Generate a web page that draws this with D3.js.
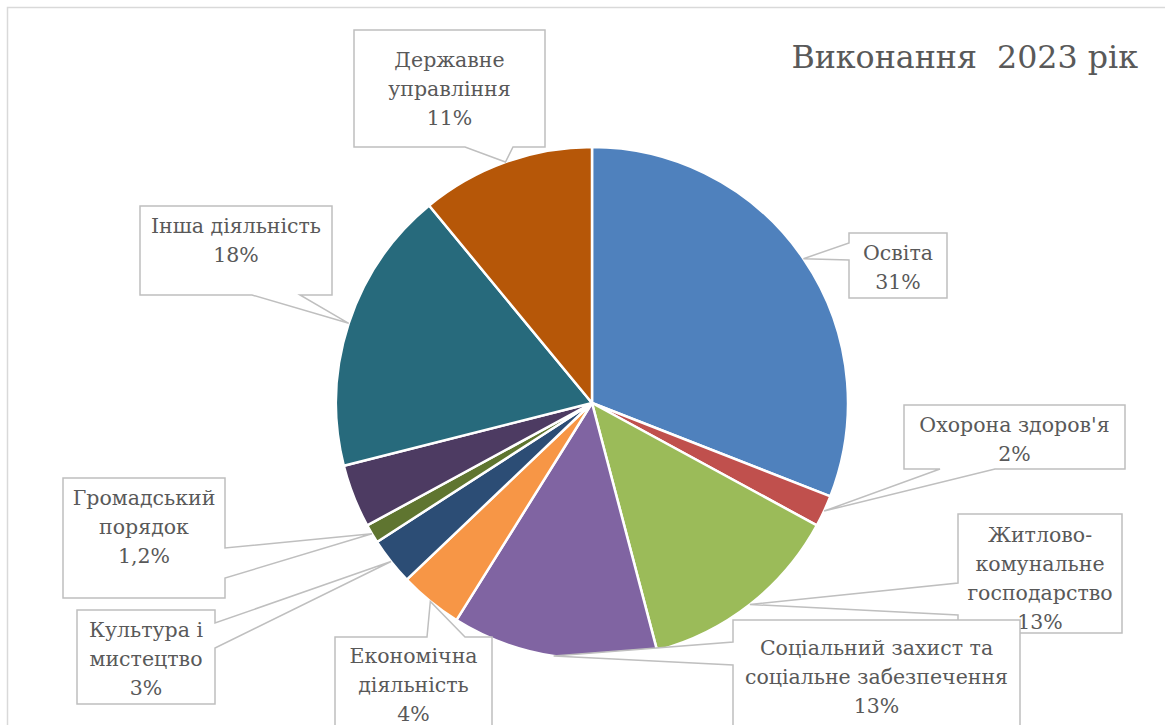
<!DOCTYPE html>
<html>
<head>
<meta charset="utf-8">
<script src="https://cdn.jsdelivr.net/npm/d3@7"></script>
<style>
  body { margin: 0; background: #fff; }
  svg text { font-family: "DejaVu Serif", "Liberation Serif", serif; fill: #595959; }
</style>
</head>
<body>
<svg id="chart"></svg>
<script>
// data
const categories = ["Освіта", "Охорона здоров'я", "Житлово-комунальне господарство",
    "Соціальний захист та соціальне забезпечення", "Економічна діяльність",
    "Культура і мистецтво", "Громадський порядок", "", "Інша діяльність", "Державне управління"];
const values = [31, 2, 13, 13, 4, 3, 1.2, 4, 18, 11];
const percentLabels = ["31%", "2%", "13%", "13%", "4%", "3%", "1,2%", null, "18%", "11%"];
const labelLines = [
    ["Освіта"],
    ["Охорона здоров'я"],
    ["Житлово-", "комунальне", "господарство"],
    ["Соціальний захист та", "соціальне забезпечення"],
    ["Економічна", "діяльність"],
    ["Культура і", "мистецтво"],
    ["Громадський", "порядок"],
    null,
    ["Інша діяльність"],
    ["Державне", "управління"]
];
const colors = ["#4F81BD", "#C0504D", "#9BBB59", "#8064A2", "#F79646",
    "#2C4D75", "#5F7530", "#4D3B62", "#276A7C", "#B65708"];

const title = "Виконання  2023 рік";

// callout boxes (layout only): box, side of the wedge, wedge base, first baseline
const callouts = [
    {i: 0, x: 849, y: 233, w: 98, h: 65, side: "left", a: 243, b: 260, base: 260},
    {i: 1, x: 904, y: 405, w: 221, h: 64, side: "bottom", a: 940, b: 995, base: 432},
    {i: 2, x: 958, y: 514, w: 164, h: 119, side: "left", a: 583, b: 615, base: 542},
    {i: 3, x: 733, y: 620, w: 287, h: 130, side: "left", a: 642, b: 665, base: 655},
    {i: 4, x: 335, y: 637, w: 157, h: 110, side: "top", a: 427, b: 465, base: 663},
    {i: 5, x: 77, y: 610, w: 138, h: 94, side: "right", a: 623, b: 648, base: 637},
    {i: 6, x: 63, y: 478, w: 162, h: 120, side: "right", a: 548, b: 578, base: 505},
    {i: 8, x: 140, y: 206, w: 192, h: 89, side: "bottom", a: 252, b: 300, base: 233},
    {i: 9, x: 354, y: 30, w: 191, h: 117, side: "bottom", a: 465, b: 513, base: 67}
];

const width = 1165, height = 725;
const cx = 592, cy = 403, radius = 256;
const lineH = 29;

const svg = d3.select("#chart").attr("width", width).attr("height", height);

// chart frame
svg.append("rect")
    .attr("x", 7.5).attr("y", 7.5)
    .attr("width", width + 20).attr("height", height + 20)
    .attr("fill", "none")
    .attr("stroke", "#D9D9D9")
    .attr("stroke-width", 1.5);

const pie = d3.pie().sort(null).value(d => d)(values);
const arc = d3.arc().innerRadius(0).outerRadius(radius);
const tipArc = d3.arc().innerRadius(radius).outerRadius(radius);

const g = svg.append("g").attr("transform", `translate(${cx},${cy})`);
g.selectAll("path")
    .data(pie).enter()
    .append("path")
    .attr("d", arc)
    .attr("fill", (d, i) => colors[i])
    .attr("stroke", "#fff")
    .attr("stroke-width", 2.5)
    .attr("stroke-linejoin", "round");

function calloutPath(c, tx, ty) {
    const x = c.x, y = c.y, r = c.x + c.w, btm = c.y + c.h;
    if (c.side === "bottom")
        return `M${x},${y}H${r}V${btm}H${c.b}L${tx},${ty}L${c.a},${btm}H${x}Z`;
    if (c.side === "left")
        return `M${x},${y}H${r}V${btm}H${x}V${c.b}L${tx},${ty}L${x},${c.a}Z`;
    if (c.side === "right")
        return `M${x},${y}H${r}V${c.a}L${tx},${ty}L${r},${c.b}V${btm}H${x}Z`;
    return `M${x},${y}H${c.a}L${tx},${ty}L${c.b},${y}H${r}V${btm}H${x}Z`;
}

const labels = svg.append("g").attr("class", "callouts");
callouts.forEach(c => {
    const t = tipArc.centroid(pie[c.i]);
    const tx = cx + t[0], ty = cy + t[1];
    const grp = labels.append("g");
    grp.append("path")
        .attr("d", calloutPath(c, tx, ty))
        .attr("fill", "#fff")
        .attr("stroke", "#BFBFBF")
        .attr("stroke-width", 1.5)
        .attr("stroke-linejoin", "miter");
    const lines = labelLines[c.i].concat([percentLabels[c.i]]);
    grp.selectAll("text")
        .data(lines).enter()
        .append("text")
        .attr("x", c.x + c.w / 2)
        .attr("y", (d, k) => c.base + k * lineH)
        .attr("text-anchor", "middle")
        .attr("font-size", 20.5)
        .text(d => d);
});

svg.append("text")
    .attr("x", 1138)
    .attr("y", 68)
    .attr("text-anchor", "end")
    .attr("font-size", 31.7)
    .style("white-space", "pre")
    .text(title);
</script>
</body>
</html>
